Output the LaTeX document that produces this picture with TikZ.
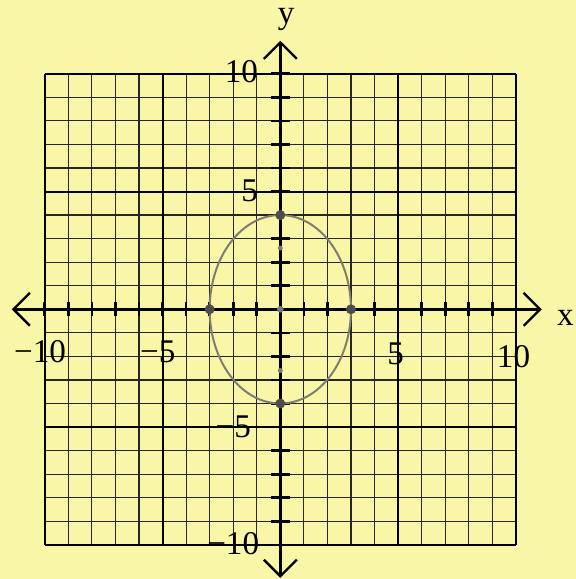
\documentclass[tikz,border=0pt]{standalone}
\usepackage{fontspec}
\setmainfont{Liberation Serif}
\usetikzlibrary{arrows.meta}
\definecolor{paper}{RGB}{250,246,168}
\definecolor{pencil}{RGB}{125,125,112}

\begin{document}
\begin{tikzpicture}[x=0.5cm, y=0.5cm,
    minor/.style={line width=0.7pt, black!85},
    major/.style={line width=1.2pt},
    axis/.style={line width=1.8pt, {Straight Barb[length=3.5mm, width=7mm, line width=1.4pt]}-{Straight Barb[length=3.5mm, width=7mm, line width=1.4pt]}},
    tick/.style={line width=1.6pt},
    num/.style={font=\fontsize{20}{24}\selectfont, inner sep=0pt},
    pt/.style={circle, fill=black!70, inner sep=0pt, minimum size=6pt}]

    \fill[paper] (-11.9,-11.45) rectangle (12.55,13.13);
    \useasboundingbox (-11.9,-11.45) rectangle (12.55,13.13);

    \foreach \i in {-10,...,10} {
        \draw[minor] (\i,-10) -- (\i,10);
        \draw[minor] (-10,\i) -- (10,\i);
    }
    \foreach \i in {-10,-5,...,10} {
        \draw[major] (\i,-10) -- (\i,10);
        \draw[major] (-10,\i) -- (10,\i);
    }

    \coordinate (xleft) at (-11.4,0);
    \coordinate (xright) at (11.1,0);
    \coordinate (ydown) at (0,-11.4);
    \coordinate (yup) at (0,11.4);
    \draw[axis] (xleft) -- (xright);
    \draw[axis] (ydown) -- (yup);

    \foreach \i in {-10,...,10} {
        \draw[tick] (\i,-0.3) -- (\i,0.3);
        \draw[tick] (-0.4,\i) -- (0.4,\i);
    }

    \node[num] (xlab) at (12.1,-0.35) {x};
    \node[num] (ylab) at (0.25,12.3) {y};

    \node[num] (xm10) at (-10.2,-1.8) {−10};
    \node[num] (xm5) at (-5.2,-1.8) {−5};
    \node[num] (xp5) at (4.9,-1.9) {5};
    \node[num] (xp10) at (9.9,-2.0) {10};
    \node[num] (yp10) at (-1.65,10.1) {10};
    \node[num] (yp5) at (-1.3,5.05) {5};
    \node[num] (ym5) at (-2.0,-5.0) {−5};
    \node[num] (ym10) at (-2.0,-9.95) {−10};

    \draw[pencil, line width=1.2pt] (0,0) ellipse (3 and 4);

    \node[pt] (left) at (-3,0) {};
    \node[pt] (right) at (3,0) {};
    \node[pt] (top) at (0,4) {};
    \node[pt] (bottom) at (0,-4) {};
    \node[pt, fill=pencil, minimum size=4pt] (center) at (0,0) {};
    \node[pt, fill=pencil, minimum size=3pt] (fup) at (0,2.6) {};
    \node[pt, fill=pencil, minimum size=3pt] (fdown) at (0,-2.6) {};
\end{tikzpicture}
\end{document}
